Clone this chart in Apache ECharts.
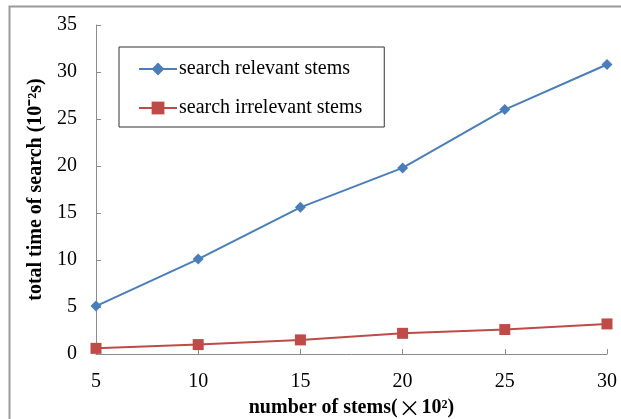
<!DOCTYPE html>
<html>
<head>
<meta charset="utf-8">
<script src="https://cdn.jsdelivr.net/npm/echarts@6/dist/echarts.min.js"></script>
<style>
html,body{margin:0;padding:0;background:#fff;}
#chart{width:621px;height:419px;}
</style>
</head>
<body>
<div id="chart"></div>
<script>
// number of stems (x10^2)
const stems = ['5', '10', '15', '20', '25', '30'];
// total search time (10^-2 s)
const relevantTimes = [5.1, 10.1, 15.6, 19.8, 26.0, 30.8];
const irrelevantTimes = [0.6, 1.0, 1.5, 2.2, 2.6, 3.2];
const yTicks = { min: 0, max: 35, interval: 5 };

const serif = '"Liberation Serif", "Times New Roman", serif';
const axisGray = '#8c8c8c';
const blue = '#4a7ebb';
const red = '#be4b48';

const chart = echarts.init(document.getElementById('chart'), null, { renderer: 'canvas' });

chart.setOption({
  backgroundColor: '#fff',
  animation: false,
  graphic: [{
    type: 'rect',
    shape: { x: 9.5, y: 6.5, width: 700, height: 500 },
    style: { fill: 'none', stroke: '#9a9a9a', lineWidth: 2 },
    silent: true
  }],
  grid: { left: 96, right: 14, top: 25, bottom: 65, containLabel: false, outerBoundsMode: 'none' },
  legend: {
    orient: 'vertical',
    left: 119,
    top: 47,
    padding: [12, 22, 9, 19],
    itemGap: 19,
    itemWidth: 38,
    itemHeight: 16,
    borderColor: '#333',
    borderWidth: 1,
    backgroundColor: '#fff',
    textStyle: { fontFamily: serif, fontSize: 20, color: '#000', padding: [0, 0, 0, -3] },
    data: ['search relevant stems', 'search irrelevant stems']
  },
  xAxis: {
    type: 'category',
    data: stems,
    boundaryGap: false,
    name: 'number of stems({x|×}10²)',
    nameLocation: 'middle',
    nameGap: 42,
    nameTextStyle: {
      fontFamily: serif, fontSize: 20, fontWeight: 'bold', color: '#000',
      rich: {
        x: { fontFamily: '"Noto Sans CJK SC"', fontSize: 22, fontWeight: 'normal', color: '#000', padding: [0, 1, 0, 1] }
      }
    },
    axisLine: { lineStyle: { color: axisGray, width: 1 } },
    axisTick: { inside: true, length: 5, alignWithLabel: true, lineStyle: { color: axisGray } },
    axisLabel: { fontFamily: serif, fontSize: 20, color: '#000', margin: 18 },
    splitLine: { show: false }
  },
  yAxis: {
    type: 'value',
    min: yTicks.min,
    max: yTicks.max,
    interval: yTicks.interval,
    name: 'total time of search (10⁻²s)',
    nameLocation: 'middle',
    nameGap: 42,
    nameRotate: 90,
    nameTextStyle: { fontFamily: serif, fontSize: 20, fontWeight: 'bold', color: '#000' },
    axisLine: { show: true, lineStyle: { color: axisGray, width: 1 } },
    axisTick: { show: true, inside: true, length: 5, lineStyle: { color: axisGray } },
    axisLabel: { fontFamily: serif, fontSize: 20, color: '#000', margin: 19 },
    splitLine: { show: false }
  },
  series: [
    {
      name: 'search relevant stems',
      type: 'line',
      data: relevantTimes,
      symbol: 'diamond',
      symbolSize: 11,
      color: blue,
      lineStyle: { width: 2, color: blue },
      itemStyle: { color: blue }
    },
    {
      name: 'search irrelevant stems',
      type: 'line',
      data: irrelevantTimes,
      symbol: 'rect',
      symbolSize: 11,
      color: red,
      lineStyle: { width: 2, color: red },
      itemStyle: { color: red }
    }
  ]
});
</script>
</body>
</html>
